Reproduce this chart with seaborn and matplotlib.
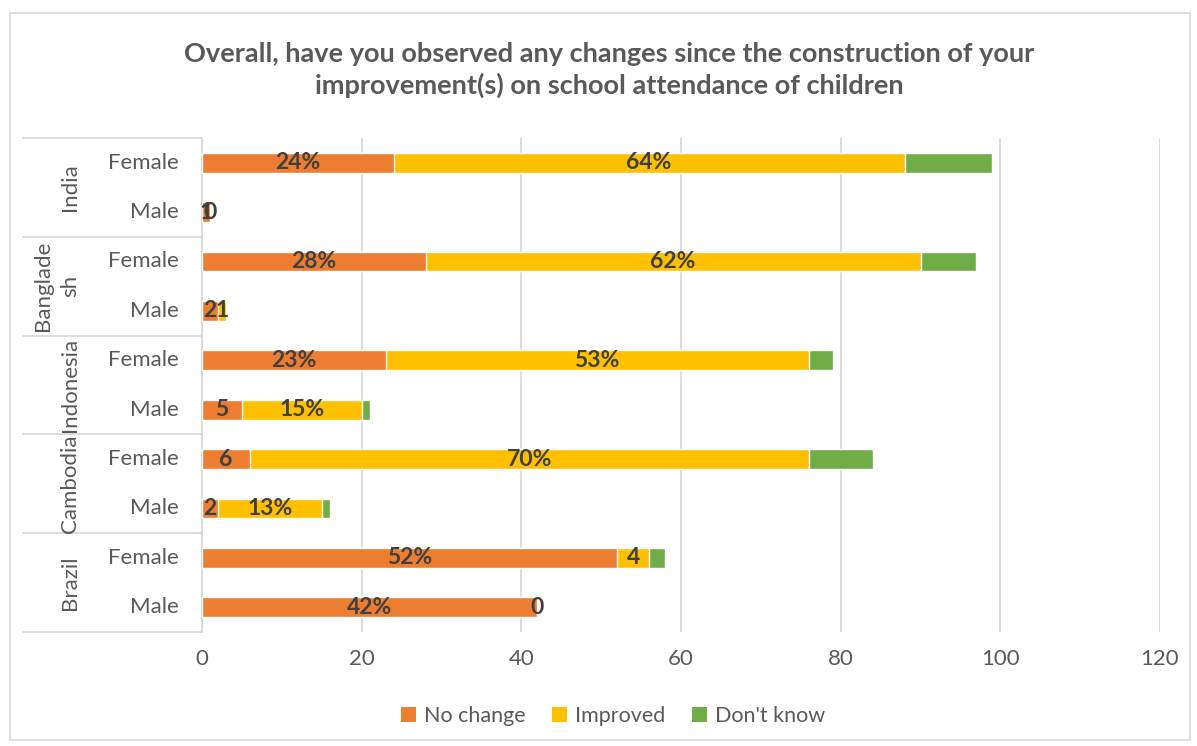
import matplotlib
matplotlib.use("Agg")
import matplotlib.pyplot as plt
import seaborn as sns
import pandas as pd
import numpy as np
from matplotlib.patches import Patch, Rectangle
from matplotlib.lines import Line2D

# Survey responses by country and gender (top row first)
countries = ["India", "Bangladesh", "Indonesia", "Cambodia", "Brazil"]
country_labels = ["India", "Banglade\nsh", "Indonesia", "Cambodia", "Brazil"]
genders = ["Female", "Male"]
no_change = [24, 1, 28, 2, 23, 5, 6, 2, 52, 42]
improved = [64, 0, 62, 1, 53, 15, 70, 13, 4, 0]
dont_know = [11, 0, 7, 0, 3, 1, 8, 1, 2, 0]
x_ticks = [0, 20, 40, 60, 80, 100, 120]

title = ("Overall, have you observed any changes since the construction of your\n"
         "improvement(s) on school attendance of children")
series_names = ["No change", "Improved", "Don't know"]
colors = ["#ED7D31", "#FFC000", "#70AD47"]

sns.set_theme(style="white")
plt.rcParams["font.family"] = ["Lato", "DejaVu Sans"]

rows = [f"{c}|{g}" for c in countries for g in genders]
df = pd.DataFrame({
    "row": rows,
    "nc": no_change,
    "imp": improved,
    "dk": dont_know,
})
df["cum_imp"] = df["nc"] + df["imp"]
df["cum_dk"] = df["cum_imp"] + df["dk"]

fig = plt.figure(figsize=(11.97, 7.46), dpi=100)
W, H = 1197, 746
x0, x1, ytop, ybot = 202, 1160, 138, 632
ax = fig.add_axes([x0 / W, 1 - ybot / H, (x1 - x0) / W, (ybot - ytop) / H])

FS = 16
GRAY = "#595959"

# stacked bars: draw the running totals from largest to smallest
for col, color in zip(["cum_dk", "cum_imp", "nc"], colors[::-1]):
    sns.barplot(data=df, x=col, y="row", orient="h", color=color,
                width=0.4, saturation=1, ax=ax, zorder=3)

ax.set_xlim(0, 120)
ax.set_ylim(len(rows) - 0.5, -0.5)
ax.set_xticks(x_ticks)
ax.set_xticklabels([str(t) for t in x_ticks], fontsize=FS, color=GRAY)
ax.tick_params(axis="x", length=0, pad=12)
ax.set_yticks([])
ax.set_xlabel("")
ax.set_ylabel("")
ax.grid(axis="x", color="#D9D9D9", linewidth=1.3, zorder=0)
for s in ["top", "right", "bottom"]:
    ax.spines[s].set_visible(False)
ax.spines["left"].set_color("#D9D9D9")
ax.spines["left"].set_linewidth(1.3)


def fmt(v):
    return f"{v}%" if v >= 10 else f"{v}"


lab_kw = dict(ha="center", va="center", fontsize=16.5, fontweight="bold",
              color="#404040", zorder=5)
for i, r in df.iterrows():
    ax.text(r["nc"] / 2, i, fmt(r["nc"]), **lab_kw)
    ax.text(r["nc"] + r["imp"] / 2, i, fmt(r["imp"]), **lab_kw)

# two-level category axis drawn in figure pixels
def fy(py):
    return 1 - py / H

row_h = (ybot - ytop) / len(rows)
for i, r in enumerate(rows):
    g = r.split("|")[1]
    fig.text(179 / W, fy(ytop + (i + 0.5) * row_h), g, ha="right", va="center",
             fontsize=FS, color=GRAY)

grp_h = (ybot - ytop) / len(countries)
for k, lab in enumerate(country_labels):
    cy = ytop + (k + 0.5) * grp_h
    fig.text(80 / W, fy(cy), lab, rotation=90, ha="right", va="center",
             multialignment="center", fontsize=FS, color=GRAY,
             linespacing=1.45)
for k in range(len(countries) + 1):
    py = ytop + k * grp_h
    fig.add_artist(Line2D([23 / W, x0 / W], [fy(py), fy(py)],
                          color="#D9D9D9", linewidth=1.3))

fig.text(609 / W, fy(70), title, ha="center", va="center", fontsize=19.5,
         fontweight="bold", color=GRAY, linespacing=1.3)

handles = [Patch(facecolor=c, edgecolor="none") for c in colors]
fig.legend(handles, series_names, loc="center", bbox_to_anchor=(613 / W, fy(716)),
           ncol=3, frameon=False, fontsize=15.5, labelcolor=GRAY,
           handlelength=0.7, handleheight=0.7, handletextpad=0.4,
           columnspacing=1.2)

# chart border
fig.add_artist(Rectangle((10 / W, fy(740)), 1180 / W, 727 / H, fill=False,
                         edgecolor="#D9D9D9", linewidth=1.2))

fig.savefig("out.png", dpi=100)
